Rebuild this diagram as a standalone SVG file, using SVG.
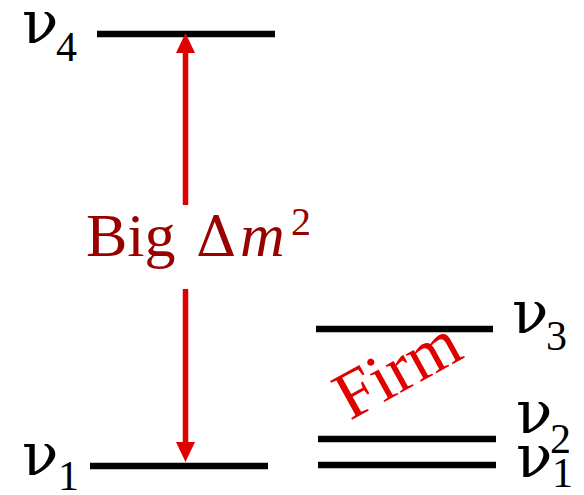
<svg xmlns="http://www.w3.org/2000/svg" width="584" height="495" viewBox="0 0 584 495" font-family="Liberation Serif">
<style>
.lvl{stroke:#000;stroke-width:6.5;fill:none}
.shaft{stroke:#e00000;stroke-width:5.5;fill:none}
.head{fill:#e00000}
</style>
<rect width="584" height="495" fill="#fff"/>
<g id="nu4">
<line class="lvl" x1="97" y1="34" x2="275" y2="34"/>
<text font-family="DejaVu Serif" font-size="60" x="22" y="43">&#957;</text>
<text font-family="Liberation Serif" font-size="42" x="56" y="61">4</text>
</g>
<g id="nu1-left">
<line class="lvl" x1="90" y1="466" x2="268" y2="466"/>
<text font-family="DejaVu Serif" font-size="60" x="22" y="475">&#957;</text>
<text font-family="Liberation Serif" font-size="42" x="58" y="490">1</text>
</g>
<g id="nu3">
<line class="lvl" x1="316" y1="329" x2="493" y2="329"/>
<text font-family="DejaVu Serif" font-size="60" x="512" y="333">&#957;</text>
<text font-family="Liberation Serif" font-size="42" x="546" y="350">3</text>
</g>
<g id="nu2">
<line class="lvl" x1="318" y1="439" x2="496" y2="439"/>
<text font-family="DejaVu Serif" font-size="60" x="516" y="433">&#957;</text>
<text font-family="Liberation Serif" font-size="42" x="550" y="453">2</text>
</g>
<g id="nu1-right">
<line class="lvl" x1="318" y1="465" x2="496" y2="465"/>
<text font-family="DejaVu Serif" font-size="60" x="516" y="477">&#957;</text>
<text font-family="Liberation Serif" font-size="42" x="552" y="487">1</text>
</g>
<g id="connectors">
<line class="shaft" x1="185.5" y1="52" x2="185.5" y2="205"/>
<line class="shaft" x1="185.5" y1="289" x2="185.5" y2="443"/>
<polygon class="head" points="185.5,33 176,53 195,53"/>
<polygon class="head" points="185.5,462 176,442 195,442"/>
</g>
<g id="label-big" fill="#990000">
<text font-family="Liberation Serif" font-size="62" x="86" y="256">Big</text>
<text font-family="DejaVu Serif" font-size="56" x="196" y="256">&#916;</text>
<text font-family="Liberation Serif" font-size="62" x="240" y="256" font-style="italic">m</text>
<text font-family="Liberation Serif" font-size="40" x="291" y="235">2</text>
</g>
<g id="label-firm">
<text font-family="Liberation Serif" font-size="68" fill="#e00000" x="350" y="421" transform="rotate(-29 350 421)">Firm</text>
</g>
</svg>
